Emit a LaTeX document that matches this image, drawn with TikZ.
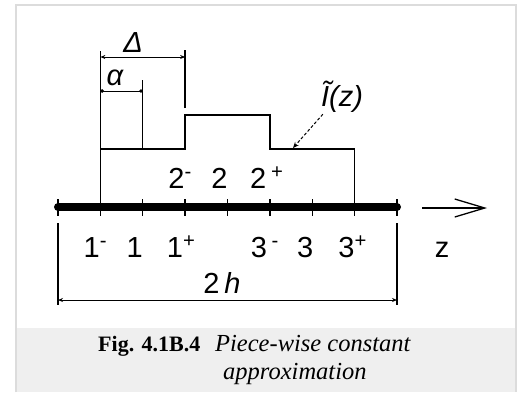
\documentclass[tikz,border=0pt]{standalone}
\usepackage{fontspec}
\setmainfont{Liberation Serif}
\setsansfont{Liberation Sans}
\usetikzlibrary{arrows.meta,positioning,calc}
\definecolor{framegrey}{HTML}{DCDCDC}
\definecolor{captiongrey}{HTML}{EFEFEF}

\begin{document}
\begin{tikzpicture}[
  x=1pt, y=-1pt,
  lbl/.style={font=\sffamily\fontsize{29}{29}\selectfont, inner sep=0pt, anchor=base},
  capt/.style={font=\itshape\fontsize{24.5}{28}\selectfont, inner sep=0pt, anchor=base west},
  contour/.style={line width=1.3pt},
  dimline/.style={line width=1pt, {Stealth[length=5pt,width=4pt]}-{Stealth[length=5pt,width=4pt]}},
  dotline/.style={line width=1pt, {Circle[length=3.5pt]}-{Circle[length=3.5pt]}},
  axisline/.style={line width=8pt, line cap=round},
  tickmark/.style={line width=1.3pt}
]
\useasboundingbox (0,0) rectangle (522,392);

% frame and caption panel
\fill[captiongrey] (17,328) rectangle (515,392);
\draw[framegrey, line width=2pt] (16,392) -- (16,5) -- (516,5) -- (516,392);

% z axis and its points
\foreach \i in {0,...,8}
  \coordinate (p\i) at ({58+42.375*\i},207);
\draw[axisline] (p0) -- (p8);
\foreach \i in {0,...,8}
  \draw[tickmark] ($(p\i)+(0,-8)$) -- ($(p\i)+(0,9)$);

% piece-wise constant current
\coordinate (lo) at (0,149);
\coordinate (hi) at (0,115);
\draw[contour] (p1) -- (p1 |- lo) -- (p3 |- lo) -- (p3 |- hi) -- (p5 |- hi)
  -- (p5 |- lo) -- (p7 |- lo) -- (p7);

% extension lines
\draw[contour] (p1 |- lo) -- ++(0,-98);
\draw[contour] (p2 |- lo) -- ++(0,-69);
\draw[contour] ($(p3)+(0,-99)$) -- ++(0,-58);
\draw[contour] ($(p0)+(0,16)$) -- ++(0,82);
\draw[contour] ($(p8)+(0,16)$) -- ++(0,82);

% dimensions
\coordinate (dimD) at (0,57);
\coordinate (dimA) at (0,91);
\coordinate (dimH) at (0,300);
\draw[dimline] (p1 |- dimD) -- (p3 |- dimD);
\draw[dotline] (p1 |- dimA) -- (p2 |- dimA);
\draw[dimline] (p0 |- dimH) -- (p8 |- dimH);
\node[lbl] (delta) at (133,52) {\itshape Δ};
\node[lbl] (alpha) at (115,85) {\itshape α};
\node[lbl] (twoh) at (222,293) {2\,\itshape h};

% point labels
\node[lbl] (n2m) at ($(p3)+(-5,-19)$) {2\textsuperscript{-}};
\node[lbl] (n2) at ($(p4)+(-8,-19)$) {2};
\node[lbl] (n2p) at ($(p5)+(-3,-19)$) {2\,\textsuperscript{+}};
\node[lbl] (n1m) at ($(p1)+(-5,50)$) {1\textsuperscript{-}};
\node[lbl] (n1) at ($(p2)+(-8,50)$) {1};
\node[lbl] (n1p) at ($(p3)+(-4,50)$) {1\textsuperscript{+}};
\node[lbl] (n3m) at ($(p5)+(-5,50)$) {3\,\textsuperscript{-}};
\node[lbl] (n3) at ($(p6)+(-7,50)$) {3};
\node[lbl] (n3p) at ($(p7)+(-2,50)$) {3\textsuperscript{+}};

% direction of z
\coordinate (zfrom) at (422,208);
\coordinate (zto) at (487,208);
\draw[line width=1.3pt, -{Straight Barb[length=30pt,width=18pt]}] (zfrom) -- (zto);
\node[lbl] (zlab) at (442,257) {z};

% current label
\node[lbl] (itil) at (342,106) {\itshape \~{I}(z)};
\coordinate (ihit) at (293,148);
\draw[line width=1pt, dash pattern=on 3pt off 2pt, -{Stealth[length=6pt,width=5pt]}]
  ($(itil.south west)+(2,2)$) -- (ihit);

% caption
\node[capt, font=\bfseries\upshape\fontsize{22}{28}\selectfont] (capfig) at (98,351) {Fig. 4.1B.4};
\node[capt] (captext) at (215,351) {Piece-wise constant};
\node[capt] (captext2) at (223,379) {approximation};
\end{tikzpicture}
\end{document}
